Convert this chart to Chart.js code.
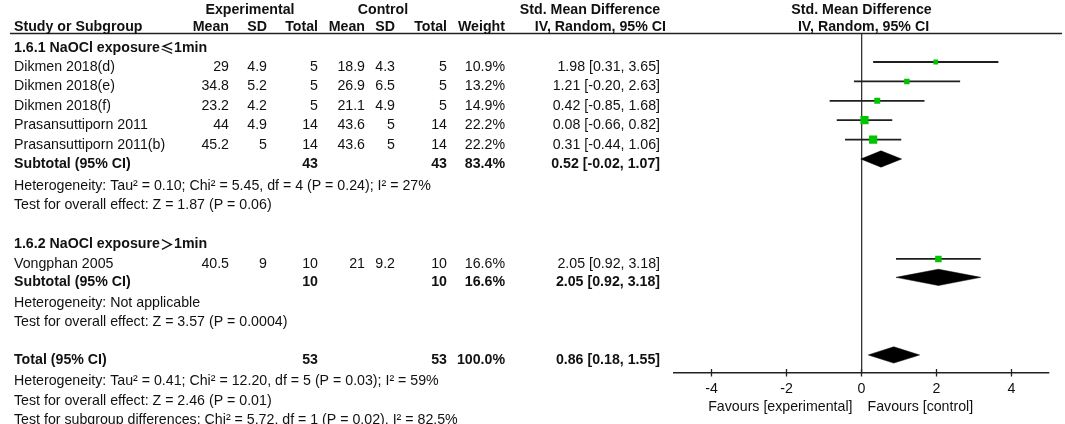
<!DOCTYPE html>
<html>
<head>
<meta charset="utf-8">
<script src="https://cdn.jsdelivr.net/npm/chart.js@4.4.1/dist/chart.umd.min.js"></script>
<style>
  html, body { margin: 0; padding: 0; background: #ffffff; }
  #wrap { width: 1065px; height: 424px; position: relative; }
</style>
</head>
<body>
<div id="wrap"><canvas id="c"></canvas></div>
<script>
// ---------------- DATA ----------------
const studies = ["Dikmen 2018(d)", "Dikmen 2018(e)", "Dikmen 2018(f)", "Prasansuttiporn 2011", "Prasansuttiporn 2011(b)", "Vongphan 2005"];
const expMean  = [29, 34.8, 23.2, 44, 45.2, 40.5];
const expSD    = [4.9, 5.2, 4.2, 4.9, 5, 9];
const expTotal = [5, 5, 5, 14, 14, 10];
const ctlMean  = [18.9, 26.9, 21.1, 43.6, 43.6, 21];
const ctlSD    = [4.3, 6.5, 4.9, 5, 5, 9.2];
const ctlTotal = [5, 5, 5, 14, 14, 10];
const weight   = [10.9, 13.2, 14.9, 22.2, 22.2, 16.6];
const smd      = [1.98, 1.21, 0.42, 0.08, 0.31, 2.05];
const ciLow    = [0.31, -0.20, -0.85, -0.66, -0.44, 0.92];
const ciHigh   = [3.65, 2.63, 1.68, 0.82, 1.06, 3.18];

const groupTitles = ["1.6.1 NaOCl exposure≤1min", "1.6.2 NaOCl exposure＞1min"];
const pooledLabels   = ["Subtotal (95% CI)", "Subtotal (95% CI)", "Total (95% CI)"];
const pooledExpTotal = [43, 10, 53];
const pooledCtlTotal = [43, 10, 53];
const pooledWeight   = [83.4, 16.6, 100.0];
const pooledSmd      = [0.52, 2.05, 0.86];
const pooledLow      = [-0.02, 0.92, 0.18];
const pooledHigh     = [1.07, 3.18, 1.55];

const notes1 = ["Heterogeneity: Tau² = 0.10; Chi² = 5.45, df = 4 (P = 0.24); I² = 27%",
                "Test for overall effect: Z = 1.87 (P = 0.06)"];
const notes2 = ["Heterogeneity: Not applicable",
                "Test for overall effect: Z = 3.57 (P = 0.0004)"];
const notes3 = ["Heterogeneity: Tau² = 0.41; Chi² = 12.20, df = 5 (P = 0.03); I² = 59%",
                "Test for overall effect: Z = 2.46 (P = 0.01)",
                "Test for subgroup differences: Chi² = 5.72, df = 1 (P = 0.02), I² = 82.5%"];

const xTicks = [-4, -2, 0, 2, 4];
const favoursLeft = "Favours [experimental]";
const favoursRight = "Favours [control]";

const headerTop = ["Experimental", "Control", "Std. Mean Difference", "Std. Mean Difference"];
const headerCols = ["Study or Subgroup", "Mean", "SD", "Total", "Mean", "SD", "Total", "Weight", "IV, Random, 95% CI", "IV, Random, 95% CI"];

// ---------------- LAYOUT (row positions in y-scale units, column x in px) ----------------
const ROW = {
  hdr1: -1.95, hdr2: -1.07,
  groups: [0, 10.12],
  studies: [1, 2, 3, 4, 5, 11.15],
  pooled: [6, 12.1, 16.1],
  notes: [[7.13, 8.13], [13.15, 14.15], [17.2, 18.2, 19.2]]
};
const COL = { study: 14, expMean: 229, expSD: 267, expTotal: 318, ctlMean: 365, ctlSD: 395, ctlTotal: 447, weight: 505, ci: 660 };
const FONT = "'Liberation Sans', Arial, Helvetica, sans-serif";
const FSIZE = 14.2;
const TXT = "#111111";
const DIAMOND_H = 0.42;

// ---------------- DATASETS ----------------
const datasets = [];
// squares (on top)
datasets.push({
  type: 'line', showLine: false,
  data: smd.map((v, i) => ({ x: v, y: ROW.studies[i] })),
  pointStyle: 'rect',
  pointRadius: weight.map(w => (1.5 + 0.3 * w) / Math.SQRT2),
  pointBackgroundColor: '#00C400', pointBorderWidth: 0, pointBorderColor: '#00C400'
});
// CI lines
smd.forEach((v, i) => {
  datasets.push({
    type: 'line',
    data: [{ x: ciLow[i], y: ROW.studies[i] }, { x: ciHigh[i], y: ROW.studies[i] }],
    borderColor: '#1f1f1f', borderWidth: 1.8, pointRadius: 0, fill: false
  });
});
// diamonds: upper edge then lower edge filled to upper
pooledSmd.forEach((v, i) => {
  const r = ROW.pooled[i];
  const upperIndex = datasets.length;
  datasets.push({
    type: 'line',
    data: [{ x: pooledLow[i], y: r }, { x: v, y: r - DIAMOND_H }, { x: pooledHigh[i], y: r }],
    borderColor: '#000', borderWidth: 0.5, pointRadius: 0, fill: false
  });
  datasets.push({
    type: 'line',
    data: [{ x: pooledLow[i], y: r }, { x: v, y: r + DIAMOND_H }, { x: pooledHigh[i], y: r }],
    borderColor: '#000', borderWidth: 0.5, pointRadius: 0,
    fill: upperIndex, backgroundColor: '#000'
  });
});

// ---------------- TEXT PLUGIN ----------------
function drawRuns(ctx, text, x, y, weightStr, align) {
  // draw text, using a CJK font for the comparison symbols
  const parts = text.split(/([≤＞])/).filter(s => s.length);
  const fontFor = s => (/^[≤＞]$/.test(s) ? `${weightStr} ${FSIZE}px 'Noto Sans CJK SC', ${FONT}` : `${weightStr} ${FSIZE}px ${FONT}`);
  let total = 0;
  parts.forEach(p => { ctx.font = fontFor(p); total += ctx.measureText(p).width; });
  let cx = align === 'right' ? x - total : (align === 'center' ? x - total / 2 : x);
  ctx.textAlign = 'left';
  parts.forEach(p => { ctx.font = fontFor(p); ctx.fillText(p, cx, y); cx += ctx.measureText(p).width; });
}

const tablePlugin = {
  id: 'forestTable',
  afterDraw(chart) {
    const ctx = chart.ctx;
    const ys = chart.scales.y, xs = chart.scales.x;
    const ty = v => ys.getPixelForValue(v) + 5;
    const area = chart.chartArea;
    ctx.save();
    ctx.fillStyle = TXT;
    ctx.textBaseline = 'middle';
    const t = (s, x, y, bold, align) => drawRuns(ctx, String(s), x, y, bold ? 'bold' : 'normal', align);

    // header line
    ctx.strokeStyle = '#222'; ctx.lineWidth = 1.5;
    ctx.beginPath(); ctx.moveTo(10, area.top); ctx.lineTo(1062, area.top); ctx.stroke();

    // headers
    t(headerTop[0], 250, ty(ROW.hdr1), true, 'center');
    t(headerTop[1], 383, ty(ROW.hdr1), true, 'center');
    t(headerTop[2], 590, ty(ROW.hdr1), true, 'center');
    t(headerTop[3], xs.getPixelForValue(0), ty(ROW.hdr1), true, 'center');
    const h2 = ty(ROW.hdr2);
    t(headerCols[0], COL.study, h2, true, 'left');
    t(headerCols[1], COL.expMean, h2, true, 'right');
    t(headerCols[2], COL.expSD, h2, true, 'right');
    t(headerCols[3], COL.expTotal, h2, true, 'right');
    t(headerCols[4], COL.ctlMean, h2, true, 'right');
    t(headerCols[5], COL.ctlSD, h2, true, 'right');
    t(headerCols[6], COL.ctlTotal, h2, true, 'right');
    t(headerCols[7], COL.weight, h2, true, 'right');
    t(headerCols[8], 666, h2, true, 'right');
    t(headerCols[9], xs.getPixelForValue(0) + 2, h2, true, 'center');

    // group titles
    groupTitles.forEach((g, i) => t(g, COL.study, ty(ROW.groups[i]), true, 'left'));

    // studies
    const ciText = (e, l, h) => `${e.toFixed(2)} [${l.toFixed(2)}, ${h.toFixed(2)}]`;
    studies.forEach((s, i) => {
      const y = ty(ROW.studies[i]);
      t(s, COL.study, y, false, 'left');
      t(expMean[i], COL.expMean, y, false, 'right');
      t(expSD[i], COL.expSD, y, false, 'right');
      t(expTotal[i], COL.expTotal, y, false, 'right');
      t(ctlMean[i], COL.ctlMean, y, false, 'right');
      t(ctlSD[i], COL.ctlSD, y, false, 'right');
      t(ctlTotal[i], COL.ctlTotal, y, false, 'right');
      t(weight[i].toFixed(1) + '%', COL.weight, y, false, 'right');
      t(ciText(smd[i], ciLow[i], ciHigh[i]), COL.ci, y, false, 'right');
    });

    // pooled rows
    pooledLabels.forEach((s, i) => {
      const y = ty(ROW.pooled[i]);
      t(s, COL.study, y, true, 'left');
      t(pooledExpTotal[i], COL.expTotal, y, true, 'right');
      t(pooledCtlTotal[i], COL.ctlTotal, y, true, 'right');
      t(pooledWeight[i].toFixed(1) + '%', COL.weight, y, true, 'right');
      t(ciText(pooledSmd[i], pooledLow[i], pooledHigh[i]), COL.ci, y, true, 'right');
    });

    // notes
    [notes1, notes2, notes3].forEach((arr, gi) => {
      arr.forEach((n, j) => t(n, COL.study, ty(ROW.notes[gi][j]), false, 'left'));
    });

    // tick marks crossing the axis
    ctx.strokeStyle = '#222'; ctx.lineWidth = 1.3;
    xTicks.forEach(v => {
      const px = xs.getPixelForValue(v);
      ctx.beginPath(); ctx.moveTo(px, area.bottom - 4); ctx.lineTo(px, area.bottom + 3.5); ctx.stroke();
    });

    // favours labels
    const fy = area.bottom + 34;
    const zx = xs.getPixelForValue(0);
    t(favoursLeft, zx - 9, fy, false, 'right');
    t(favoursRight, zx + 6, fy, false, 'left');
    ctx.restore();
  }
};

new Chart(document.getElementById('c'), {
  type: 'line',
  data: { datasets },
  options: {
    responsive: true,
    maintainAspectRatio: false,
    animation: false,
    events: [],
    layout: { padding: { left: 674, right: 16, top: 33.5, bottom: 27 } },
    plugins: { legend: { display: false }, tooltip: { enabled: false }, title: { display: false } },
    elements: { line: { tension: 0 } },
    scales: {
      x: {
        type: 'linear', min: -5, max: 5,
        afterBuildTicks: s => { s.ticks = xTicks.map(v => ({ value: v })); },
        afterFit: s => { s.height = 24; },
        grid: {
          drawTicks: false, drawOnChartArea: true,
          color: c => (c.tick && c.tick.value === 0 ? '#333333' : 'rgba(0,0,0,0)'),
          lineWidth: 1.3
        },
        border: { display: true, color: '#222', width: 1.5 },
        ticks: { padding: 8, color: TXT, font: { family: FONT, size: FSIZE }, callback: v => String(v) }
      },
      y: {
        type: 'linear', reverse: true, min: -0.469, max: 17.03, display: false
      }
    }
  },
  plugins: [tablePlugin]
});
</script>
</body>
</html>
